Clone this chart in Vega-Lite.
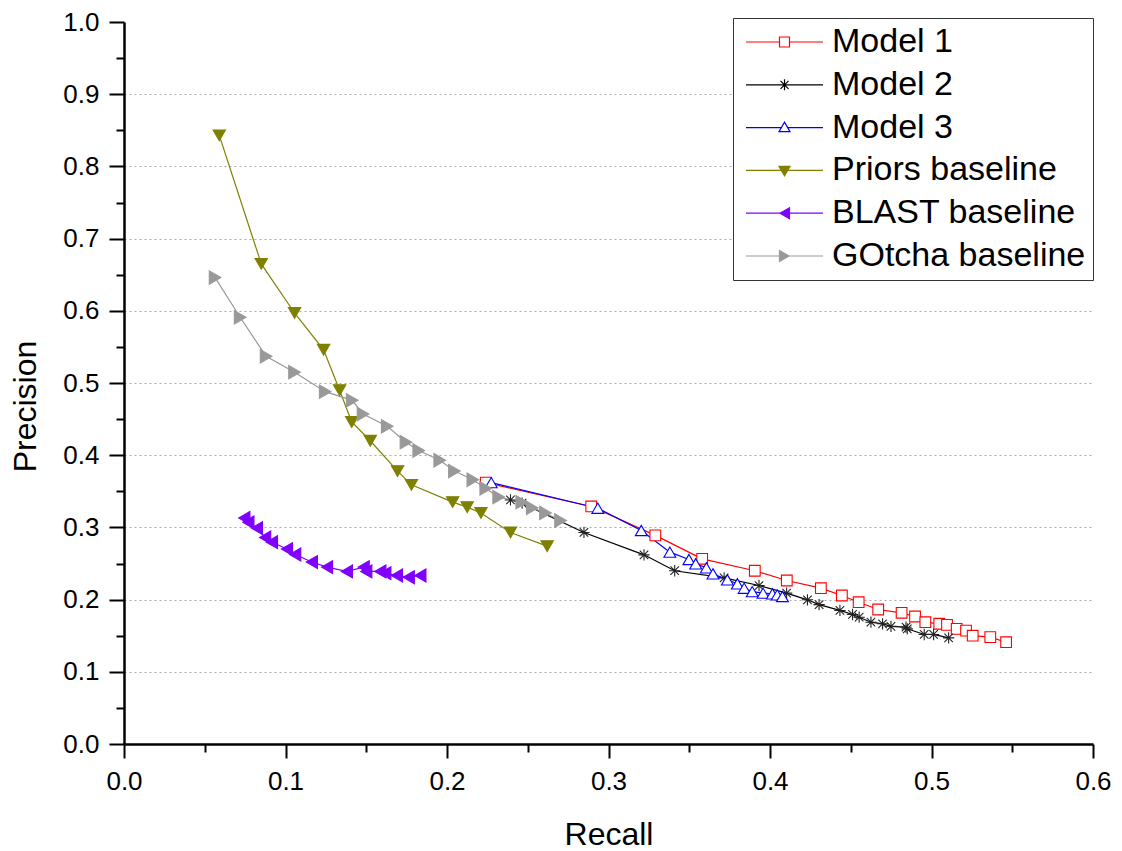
{
  "$schema": "https://vega.github.io/schema/vega-lite/v6.json",
  "width": 969,
  "height": 722,
  "autosize": {"type": "none"},
  "padding": {"left": 124, "top": 22, "right": 29, "bottom": 107},
  "background": "white",
  "config": {
    "view": {"stroke": null},
    "font": "Liberation Sans",
    "axis": {"labelFont": "Liberation Sans", "titleFont": "Liberation Sans", "labelColor": "black", "titleColor": "black", "titleFontWeight": "normal", "domainColor": "black", "tickColor": "black"},
    "legend": {"labelFont": "Liberation Sans"}
  },
  "resolve": {"scale": {"shape": "independent", "stroke": "independent", "fill": "independent"}},
  "data": {"values": [
    {"s": "Model 1", "r": 0.224, "p": 0.362},
    {"s": "Model 1", "r": 0.2893, "p": 0.329},
    {"s": "Model 1", "r": 0.329, "p": 0.289},
    {"s": "Model 1", "r": 0.358, "p": 0.2565},
    {"s": "Model 1", "r": 0.3906, "p": 0.24},
    {"s": "Model 1", "r": 0.4104, "p": 0.2265},
    {"s": "Model 1", "r": 0.4315, "p": 0.2158},
    {"s": "Model 1", "r": 0.4445, "p": 0.2057},
    {"s": "Model 1", "r": 0.4549, "p": 0.1964},
    {"s": "Model 1", "r": 0.467, "p": 0.1863},
    {"s": "Model 1", "r": 0.4815, "p": 0.1817},
    {"s": "Model 1", "r": 0.4898, "p": 0.1766},
    {"s": "Model 1", "r": 0.4962, "p": 0.1687},
    {"s": "Model 1", "r": 0.5048, "p": 0.1665},
    {"s": "Model 1", "r": 0.5096, "p": 0.165},
    {"s": "Model 1", "r": 0.5156, "p": 0.1595},
    {"s": "Model 1", "r": 0.5214, "p": 0.157},
    {"s": "Model 1", "r": 0.5255, "p": 0.15},
    {"s": "Model 1", "r": 0.5364, "p": 0.148},
    {"s": "Model 1", "r": 0.5462, "p": 0.141},
    {"s": "Model 2", "r": 0.2393, "p": 0.338},
    {"s": "Model 2", "r": 0.2465, "p": 0.3335},
    {"s": "Model 2", "r": 0.2848, "p": 0.293},
    {"s": "Model 2", "r": 0.322, "p": 0.262},
    {"s": "Model 2", "r": 0.341, "p": 0.24},
    {"s": "Model 2", "r": 0.3716, "p": 0.23},
    {"s": "Model 2", "r": 0.3932, "p": 0.2195},
    {"s": "Model 2", "r": 0.4103, "p": 0.209},
    {"s": "Model 2", "r": 0.4232, "p": 0.1997},
    {"s": "Model 2", "r": 0.4304, "p": 0.193},
    {"s": "Model 2", "r": 0.4433, "p": 0.185},
    {"s": "Model 2", "r": 0.4511, "p": 0.1794},
    {"s": "Model 2", "r": 0.4552, "p": 0.1756},
    {"s": "Model 2", "r": 0.4625, "p": 0.1687},
    {"s": "Model 2", "r": 0.4697, "p": 0.1665},
    {"s": "Model 2", "r": 0.4749, "p": 0.163},
    {"s": "Model 2", "r": 0.4842, "p": 0.1618},
    {"s": "Model 2", "r": 0.485, "p": 0.1595},
    {"s": "Model 2", "r": 0.4955, "p": 0.1517},
    {"s": "Model 2", "r": 0.5013, "p": 0.1517},
    {"s": "Model 2", "r": 0.5106, "p": 0.147},
    {"s": "Model 3", "r": 0.2274, "p": 0.362},
    {"s": "Model 3", "r": 0.2934, "p": 0.3266},
    {"s": "Model 3", "r": 0.3203, "p": 0.2957},
    {"s": "Model 3", "r": 0.338, "p": 0.2657},
    {"s": "Model 3", "r": 0.3498, "p": 0.2555},
    {"s": "Model 3", "r": 0.354, "p": 0.2496},
    {"s": "Model 3", "r": 0.3606, "p": 0.244},
    {"s": "Model 3", "r": 0.3647, "p": 0.2357},
    {"s": "Model 3", "r": 0.3736, "p": 0.2274},
    {"s": "Model 3", "r": 0.3798, "p": 0.2219},
    {"s": "Model 3", "r": 0.384, "p": 0.2158},
    {"s": "Model 3", "r": 0.389, "p": 0.211},
    {"s": "Model 3", "r": 0.3957, "p": 0.2089},
    {"s": "Model 3", "r": 0.4015, "p": 0.208},
    {"s": "Model 3", "r": 0.4045, "p": 0.2065},
    {"s": "Model 3", "r": 0.4077, "p": 0.2043},
    {"s": "Priors baseline", "r": 0.059, "p": 0.843},
    {"s": "Priors baseline", "r": 0.085, "p": 0.665},
    {"s": "Priors baseline", "r": 0.1056, "p": 0.597},
    {"s": "Priors baseline", "r": 0.1236, "p": 0.546},
    {"s": "Priors baseline", "r": 0.1335, "p": 0.49},
    {"s": "Priors baseline", "r": 0.141, "p": 0.446},
    {"s": "Priors baseline", "r": 0.1525, "p": 0.42},
    {"s": "Priors baseline", "r": 0.1694, "p": 0.378},
    {"s": "Priors baseline", "r": 0.178, "p": 0.359},
    {"s": "Priors baseline", "r": 0.2035, "p": 0.335},
    {"s": "Priors baseline", "r": 0.2125, "p": 0.328},
    {"s": "Priors baseline", "r": 0.221, "p": 0.32},
    {"s": "Priors baseline", "r": 0.2393, "p": 0.293},
    {"s": "Priors baseline", "r": 0.262, "p": 0.274},
    {"s": "BLAST baseline", "r": 0.0745, "p": 0.313},
    {"s": "BLAST baseline", "r": 0.077, "p": 0.307},
    {"s": "BLAST baseline", "r": 0.0823, "p": 0.299},
    {"s": "BLAST baseline", "r": 0.0874, "p": 0.286},
    {"s": "BLAST baseline", "r": 0.0916, "p": 0.2795},
    {"s": "BLAST baseline", "r": 0.1009, "p": 0.27},
    {"s": "BLAST baseline", "r": 0.106, "p": 0.2625},
    {"s": "BLAST baseline", "r": 0.1163, "p": 0.252},
    {"s": "BLAST baseline", "r": 0.1257, "p": 0.245},
    {"s": "BLAST baseline", "r": 0.138, "p": 0.239},
    {"s": "BLAST baseline", "r": 0.1484, "p": 0.245},
    {"s": "BLAST baseline", "r": 0.15, "p": 0.239},
    {"s": "BLAST baseline", "r": 0.1587, "p": 0.239},
    {"s": "BLAST baseline", "r": 0.1618, "p": 0.2366},
    {"s": "BLAST baseline", "r": 0.169, "p": 0.2334},
    {"s": "BLAST baseline", "r": 0.1763, "p": 0.231},
    {"s": "BLAST baseline", "r": 0.1835, "p": 0.2334},
    {"s": "GOtcha baseline", "r": 0.0564, "p": 0.646},
    {"s": "GOtcha baseline", "r": 0.0719, "p": 0.591},
    {"s": "GOtcha baseline", "r": 0.088, "p": 0.537},
    {"s": "GOtcha baseline", "r": 0.1056, "p": 0.515},
    {"s": "GOtcha baseline", "r": 0.1246, "p": 0.488},
    {"s": "GOtcha baseline", "r": 0.1413, "p": 0.476},
    {"s": "GOtcha baseline", "r": 0.148, "p": 0.457},
    {"s": "GOtcha baseline", "r": 0.163, "p": 0.44},
    {"s": "GOtcha baseline", "r": 0.1746, "p": 0.418},
    {"s": "GOtcha baseline", "r": 0.1825, "p": 0.4065},
    {"s": "GOtcha baseline", "r": 0.1955, "p": 0.393},
    {"s": "GOtcha baseline", "r": 0.2046, "p": 0.378},
    {"s": "GOtcha baseline", "r": 0.216, "p": 0.366},
    {"s": "GOtcha baseline", "r": 0.224, "p": 0.354},
    {"s": "GOtcha baseline", "r": 0.232, "p": 0.342},
    {"s": "GOtcha baseline", "r": 0.2463, "p": 0.335},
    {"s": "GOtcha baseline", "r": 0.2528, "p": 0.327},
    {"s": "GOtcha baseline", "r": 0.261, "p": 0.32},
    {"s": "GOtcha baseline", "r": 0.2703, "p": 0.3096}
  ]},
  "encoding": {
    "x": {
      "field": "r", "type": "quantitative",
      "scale": {"domain": [0, 0.6], "nice": false, "zero": false},
      "axis": {
        "title": "Recall",
        "values": [0, 0.05, 0.1, 0.15, 0.2, 0.25, 0.3, 0.35, 0.4, 0.45, 0.5, 0.55, 0.6],
        "labelExpr": "round(datum.value * 100) % 10 == 0 ? format(datum.value, '.1f') : ''",
        "tickSize": {"condition": {"test": "round(datum.value * 100) % 10 != 0", "value": 8}, "value": 14},
        "tickWidth": 2,
        "domainWidth": 2.5,
        "labelFontSize": 26,
        "labelPadding": 10,
        "labelFlush": false,
        "labelOverlap": false,
        "titleFontSize": 32,
        "titleBaseline": "alphabetic",
        "titleY": 100,
        "grid": false
      }
    },
    "y": {
      "field": "p", "type": "quantitative",
      "scale": {"domain": [0, 1], "nice": false},
      "axis": {
        "title": "Precision",
        "values": [0, 0.05, 0.1, 0.15, 0.2, 0.25, 0.3, 0.35, 0.4, 0.45, 0.5, 0.55, 0.6, 0.65, 0.7, 0.75, 0.8, 0.85, 0.9, 0.95, 1],
        "labelExpr": "round(datum.value * 100) % 10 == 0 ? format(datum.value, '.1f') : ''",
        "tickSize": {"condition": {"test": "round(datum.value * 100) % 10 != 0", "value": 8}, "value": 15},
        "tickWidth": 2,
        "domainWidth": 2.5,
        "labelFontSize": 26,
        "labelPadding": 10,
        "labelFlush": false,
        "labelOverlap": false,
        "titleFontSize": 32,
        "titleBaseline": "alphabetic",
        "titleX": -89,
        "titleY": 384,
        "grid": true,
        "gridColor": "#a8a8a8",
        "gridDash": [2, 3],
        "gridWidth": 1,
        "gridOpacity": {"condition": {"test": "round(datum.value * 100) % 10 != 0 || datum.value <= 0 || datum.value >= 1", "value": 0}, "value": 1}
      }
    }
  },
  "layer": [
    {
      "mark": {"type": "line", "strokeWidth": 1.2},
      "encoding": {
        "stroke": {
          "field": "s", "type": "nominal", "legend": null,
          "scale": {
            "domain": ["Model 1", "Model 2", "Model 3", "Priors baseline", "BLAST baseline", "GOtcha baseline"],
            "range": ["#ff0000", "#000000", "#0000ff", "#808000", "#8000ff", "#999999"]
          }
        }
      }
    },
    {
      "mark": {"type": "point", "strokeWidth": 1.1, "opacity": 1},
      "encoding": {
        "stroke": {
          "field": "s", "type": "nominal", "legend": null,
          "scale": {
            "domain": ["Model 1", "Model 2", "Model 3", "Priors baseline", "BLAST baseline", "GOtcha baseline"],
            "range": ["#ff0000", "#222222", "#0000ff", "#808000", "#8000ff", "#999999"]
          }
        },
        "fill": {
          "field": "s", "type": "nominal", "legend": null,
          "scale": {
            "domain": ["Model 1", "Model 2", "Model 3", "Priors baseline", "BLAST baseline", "GOtcha baseline"],
            "range": ["#ffffff", "transparent", "#ffffff", "#808000", "#8000ff", "#999999"]
          }
        },
        "shape": {
          "field": "s", "type": "nominal", "legend": null,
          "scale": {
            "domain": ["Model 1", "Model 2", "Model 3", "Priors baseline", "BLAST baseline", "GOtcha baseline"],
            "range": ["square", "M-1,0H1M0,-1V1M-0.75,-0.75L0.75,0.75M-0.75,0.75L0.75,-0.75", "triangle-up", "triangle-down", "triangle-left", "triangle-right"]
          }
        },
        "size": {
          "field": "s", "type": "nominal", "legend": null,
          "scale": {
            "domain": ["Model 1", "Model 2", "Model 3", "Priors baseline", "BLAST baseline", "GOtcha baseline"],
            "range": [115, 180, 170, 145, 145, 145]
          }
        }
      }
    },
    {
      "mark": {"type": "point", "opacity": 0},
      "encoding": {
        "stroke": {
          "field": "s", "type": "nominal",
          "scale": {
            "domain": ["Model 1", "Model 2", "Model 3", "Priors baseline", "BLAST baseline", "GOtcha baseline"],
            "range": ["#ff0000", "#000000", "#0000ff", "#808000", "#8000ff", "#999999"]
          }
        },
        "fill": {
          "field": "s", "type": "nominal",
          "scale": {
            "domain": ["Model 1", "Model 2", "Model 3", "Priors baseline", "BLAST baseline", "GOtcha baseline"],
            "range": ["#ffffff", "transparent", "#ffffff", "#808000", "#8000ff", "#999999"]
          }
        },
        "shape": {
          "field": "s", "type": "nominal",
          "scale": {
            "domain": ["Model 1", "Model 2", "Model 3", "Priors baseline", "BLAST baseline", "GOtcha baseline"],
            "range": [
              "M-2.2,0H4.5M6.5,0H13.2M4.5,-1H6.5V1H4.5Z",
              "M-2.2,0H13.2M5.5,-1.1V1.1M4.7,-0.8L6.3,0.8M4.7,0.8L6.3,-0.8",
              "M-2.2,0H4.86M6.14,0H13.2M5.5,-1.1L6.6,0.8H4.4Z",
              "M-2.2,0H13.2M4.4,-0.8H6.6L5.5,1.1Z",
              "M-2.2,0H13.2M4.6,0L6.5,-1.1V1.1Z",
              "M-2.2,0H13.2M6.4,0L4.5,-1.1V1.1Z"
            ]
          },
          "legend": {
            "title": null,
            "orient": "none",
            "legendX": 609,
            "legendY": -4,
            "padding": 7,
            "strokeColor": "#333333",
            "fillColor": "white",
            "labelFontSize": 34,
            "labelColor": "black",
            "labelLimit": 500,
            "labelOffset": 58,
            "rowPadding": 8.8,
            "symbolSize": 100,
            "symbolStrokeWidth": 1.2,
            "symbolOpacity": 1
          }
        }
      }
    }
  ]
}
